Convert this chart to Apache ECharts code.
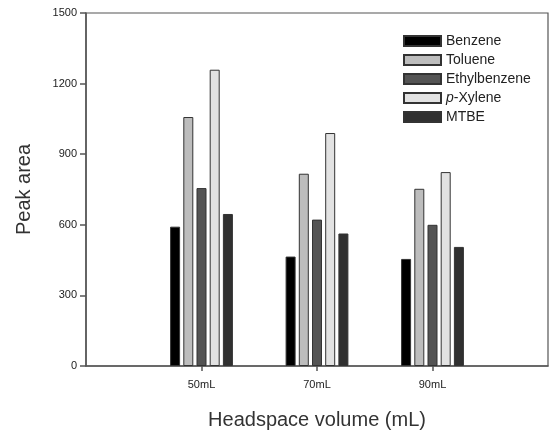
<!DOCTYPE html>
<html>
<head>
<meta charset="utf-8">
<script src="https://cdn.jsdelivr.net/npm/echarts@6/dist/echarts.min.js"></script>
<style>
  html, body { margin: 0; padding: 0; background: #fff; }
  #chart { width: 550px; height: 430px; }
</style>
</head>
<body>
<div id="chart"></div>
<script>
// padding slots at both ends so the three groups sit where the original puts them
const categories = ['', '50mL', '70mL', '90mL', ''];
const seriesNames = ['Benzene', 'Toluene', 'Ethylbenzene', 'p-Xylene', 'MTBE'];
const benzene = [null, 592, 465, 455, null];
const toluene = [null, 1058, 817, 753, null];
const ethylbenzene = [null, 756, 622, 600, null];
const pXylene = [null, 1259, 990, 824, null];
const mtbe = [null, 646, 563, 506, null];
const yTicks = [0, 300, 600, 900, 1200, 1500];

const fills = ['#000000', '#bdbdbd', '#545454', '#e2e2e2', '#303030'];
const values = [benzene, toluene, ethylbenzene, pXylene, mtbe];

const chart = echarts.init(document.getElementById('chart'));

chart.setOption({
  animation: false,
  textStyle: { fontFamily: 'Liberation Sans, Arial, sans-serif' },
  grid: {
    left: 86, right: 2, top: 13, bottom: 64,
    outerBoundsMode: 'none',
    containLabel: false,
    show: true, borderColor: '#555', borderWidth: 1.2, backgroundColor: 'transparent'
  },
  legend: {
    orient: 'vertical',
    left: 398, top: 29,
    itemWidth: 37, itemHeight: 10, itemGap: 5,
    icon: 'rect',
    textStyle: { color: '#222', fontSize: 14, rich: { it: { fontStyle: 'italic', fontSize: 14, color: '#222' } } },
    formatter: (name) => name === 'p-Xylene' ? '{it|p}-Xylene' : name,
    data: seriesNames
  },
  xAxis: {
    type: 'category',
    data: categories,
    boundaryGap: false,
    name: 'Headspace volume (mL)',
    nameLocation: 'middle',
    nameGap: 44,
    nameTextStyle: { fontSize: 20, color: '#333' },
    axisLine: { lineStyle: { color: '#555', width: 1.5 } },
    axisTick: { length: 5, lineStyle: { color: '#555', width: 1.5 }, interval: (i) => i > 0 && i < 4 },
    axisLabel: { color: '#222', fontSize: 11, margin: 13, interval: 0 },
    splitLine: { show: false }
  },
  yAxis: {
    type: 'value',
    min: 0, max: 1500, interval: 300,
    name: 'Peak area',
    nameLocation: 'middle',
    nameGap: 52,
    nameTextStyle: { fontSize: 20, color: '#333' },
    axisLine: { show: true, lineStyle: { color: '#555', width: 1.5 } },
    axisTick: { show: true, length: 6, lineStyle: { color: '#555', width: 1.5 } },
    axisLabel: { color: '#222', fontSize: 11, margin: 9, formatter: (v) => yTicks.includes(v) ? String(v) : '' },
    splitLine: { show: false }
  },
  series: seriesNames.map((name, i) => ({
    name,
    type: 'bar',
    data: values[i],
    barWidth: 10,
    barGap: '32%',
    itemStyle: { color: fills[i], borderColor: '#333', borderWidth: 1 }
  }))
});
</script>
</body>
</html>
